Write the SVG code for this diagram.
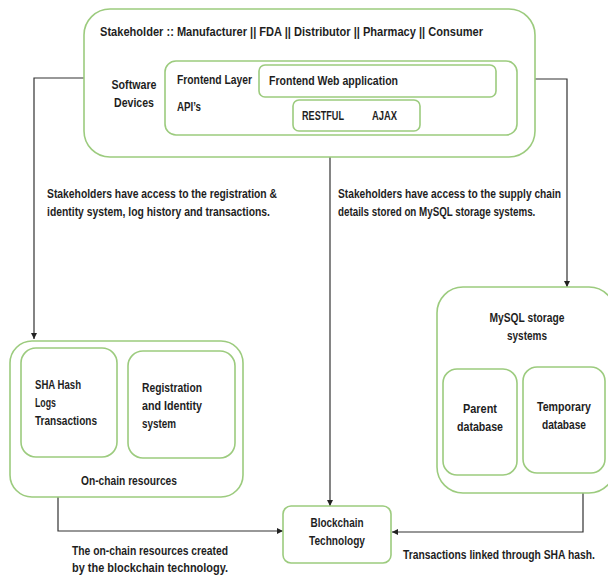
<svg xmlns="http://www.w3.org/2000/svg" width="608" height="575" viewBox="0 0 608 575">
<defs>
<marker id="arr" viewBox="0 0 10 10" refX="10" refY="5" markerWidth="6" markerHeight="6" orient="auto" markerUnits="userSpaceOnUse">
<path d="M0,0 L10,5 L0,10 Z" fill="#222"/>
</marker>
<style>
.box{fill:#fff;stroke:#9ccb7e;stroke-width:1.6}
.t{font-family:"Liberation Sans",Arial,sans-serif;font-weight:bold;font-size:13px;fill:#1e1e1e}
.c{text-anchor:middle}
.line{fill:none;stroke:#333;stroke-width:1.2}
</style>
</defs>
<rect width="608" height="575" fill="#fff"/>

<g id="connectors">
<path class="line" d="M84,78 H34 V339" marker-end="url(#arr)"/>
<path class="line" d="M535,79 H567 V287" marker-end="url(#arr)"/>
<path class="line" d="M330,157 V506" marker-end="url(#arr)"/>
<path class="line" d="M58,497 V531 H283" marker-end="url(#arr)"/>
<path class="line" d="M583,493 V532 H392" marker-end="url(#arr)"/>
</g>

<g id="stakeholder">
<rect class="box" x="84" y="9" width="451" height="148" rx="26"/>
<text class="t" x="100" y="36" textLength="383" lengthAdjust="spacingAndGlyphs">Stakeholder :: Manufacturer || FDA || Distributor || Pharmacy || Consumer</text>
<text class="t c" x="134" y="89" textLength="45" lengthAdjust="spacingAndGlyphs">Software</text>
<text class="t c" x="134" y="107" textLength="40" lengthAdjust="spacingAndGlyphs">Devices</text>
</g>

<g id="software-devices">
<rect class="box" x="165" y="61" width="352" height="74" rx="11"/>
<text class="t" x="177" y="84" textLength="75" lengthAdjust="spacingAndGlyphs">Frontend Layer</text>
<text class="t" x="177" y="111" textLength="24" lengthAdjust="spacingAndGlyphs">API’s</text>
</g>

<g id="frontend-web">
<rect class="box" x="259" y="65" width="237" height="32" rx="6"/>
<text class="t" x="269" y="85" textLength="129" lengthAdjust="spacingAndGlyphs">Frontend Web application</text>
</g>

<g id="apis">
<rect class="box" x="293" y="100" width="127" height="31" rx="6"/>
<text class="t" x="302" y="120" textLength="42" lengthAdjust="spacingAndGlyphs">RESTFUL</text>
<text class="t" x="372" y="120" textLength="25" lengthAdjust="spacingAndGlyphs">AJAX</text>
</g>

<g id="label-left">
<text class="t" x="47" y="198" textLength="230" lengthAdjust="spacingAndGlyphs">Stakeholders have access to the registration &amp;</text>
<text class="t" x="47" y="216" textLength="223" lengthAdjust="spacingAndGlyphs">identity system, log history and transactions.</text>
</g>

<g id="label-right">
<text class="t" transform="translate(338,198) scale(0.78,1)" x="0" y="0" textLength="286" lengthAdjust="spacingAndGlyphs">Stakeholders have access to the supply chain</text>
<text class="t" transform="translate(338,216) scale(0.78,1)" x="0" y="0" textLength="253" lengthAdjust="spacingAndGlyphs">details stored on MySQL storage systems.</text>
</g>

<g id="on-chain">
<rect class="box" x="10" y="341" width="233" height="156" rx="22"/>
<text class="t c" x="129" y="485" textLength="96" lengthAdjust="spacingAndGlyphs">On-chain resources</text>
</g>

<g id="sha-hash">
<rect class="box" x="21" y="348" width="96" height="109" rx="15"/>
<text class="t" x="35" y="389" textLength="46" lengthAdjust="spacingAndGlyphs">SHA Hash</text>
<text class="t" x="35" y="407" textLength="21" lengthAdjust="spacingAndGlyphs">Logs</text>
<text class="t" x="35" y="425" textLength="62" lengthAdjust="spacingAndGlyphs">Transactions</text>
</g>

<g id="registration">
<rect class="box" x="128" y="351" width="107" height="107" rx="15"/>
<text class="t" x="142" y="392" textLength="60" lengthAdjust="spacingAndGlyphs">Registration</text>
<text class="t" x="142" y="410" textLength="60" lengthAdjust="spacingAndGlyphs">and Identity</text>
<text class="t" x="142" y="428" textLength="34" lengthAdjust="spacingAndGlyphs">system</text>
</g>

<g id="mysql">
<rect class="box" x="437" y="287" width="178" height="206" rx="26"/>
<text class="t c" x="527" y="322" textLength="75" lengthAdjust="spacingAndGlyphs">MySQL storage</text>
<text class="t c" x="527" y="340" textLength="40" lengthAdjust="spacingAndGlyphs">systems</text>
</g>

<g id="parent-db">
<rect class="box" x="443" y="369" width="74" height="106" rx="14"/>
<text class="t c" x="480" y="413" textLength="34" lengthAdjust="spacingAndGlyphs">Parent</text>
<text class="t c" x="480" y="431" textLength="46" lengthAdjust="spacingAndGlyphs">database</text>
</g>

<g id="temporary-db">
<rect class="box" x="523" y="367" width="82" height="106" rx="14"/>
<text class="t c" x="564" y="411" textLength="54" lengthAdjust="spacingAndGlyphs">Temporary</text>
<text class="t c" x="564" y="429" textLength="44" lengthAdjust="spacingAndGlyphs">database</text>
</g>

<g id="blockchain">
<rect class="box" x="283" y="506" width="108" height="57" rx="8"/>
<text class="t c" x="337" y="527" textLength="53" lengthAdjust="spacingAndGlyphs">Blockchain</text>
<text class="t c" x="337" y="545" textLength="56" lengthAdjust="spacingAndGlyphs">Technology</text>
</g>

<g id="label-bottom-left">
<text class="t" x="72" y="555" textLength="156" lengthAdjust="spacingAndGlyphs">The on-chain resources created</text>
<text class="t" x="72" y="572" textLength="156" lengthAdjust="spacingAndGlyphs">by the blockchain technology.</text>
</g>

<g id="label-bottom-right">
<text class="t" transform="translate(403,559) scale(0.78,1)" x="0" y="0" textLength="246" lengthAdjust="spacingAndGlyphs">Transactions linked through SHA hash.</text>
</g>
</svg>
